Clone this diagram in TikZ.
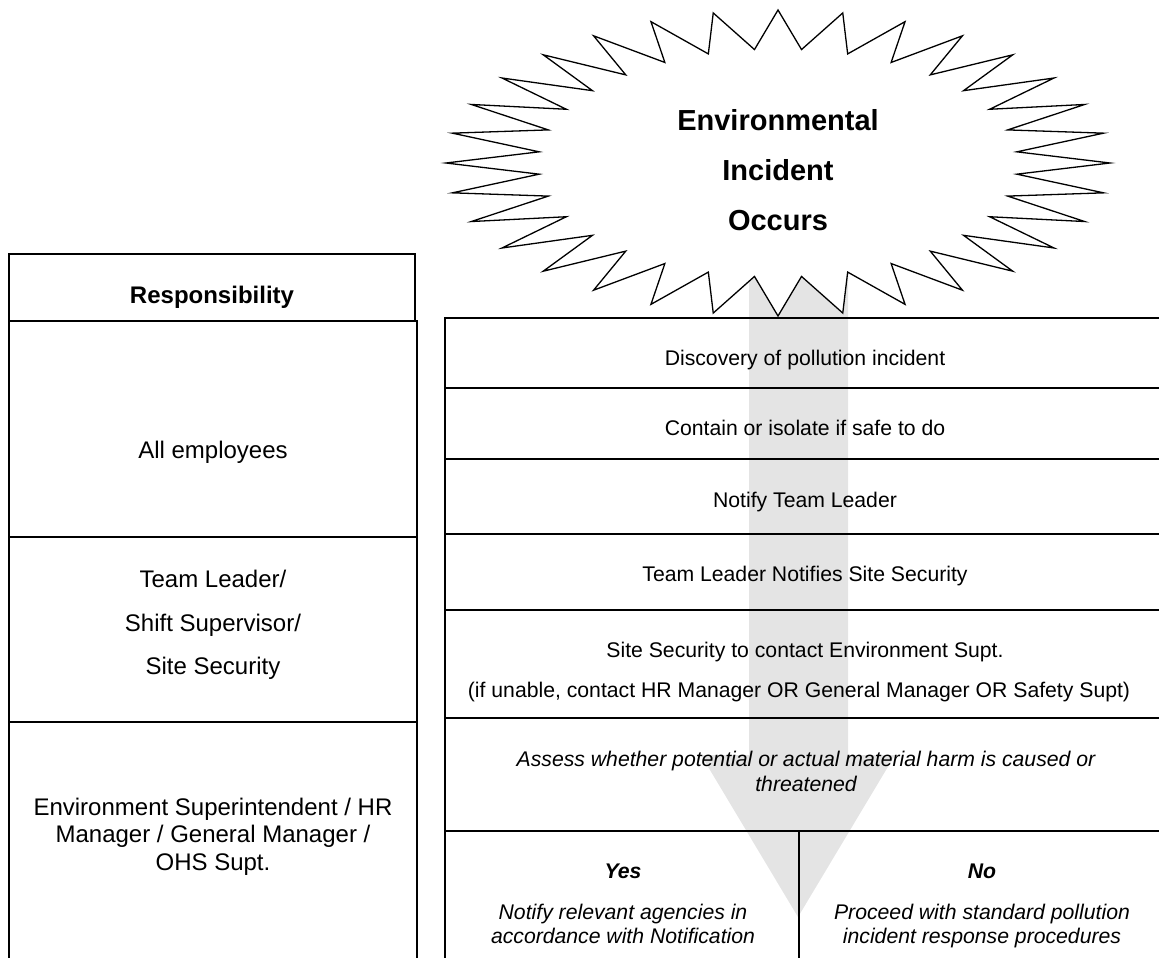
\documentclass[tikz,border=0pt]{standalone}
\usepackage{fontspec}
\setmainfont{Liberation Sans}
\definecolor{arrowgrey}{RGB}{228,228,228}
\begin{document}
\begin{tikzpicture}[x=1pt,y=-1pt,
  cell/.style={draw=black, line width=1.6pt, inner sep=0pt, outer sep=0pt, anchor=north west},
  lt/.style={inner sep=0pt, anchor=base, font=\fontsize{24}{28}\selectfont},
  ltb/.style={inner sep=0pt, anchor=base, font=\fontsize{24}{28}\selectfont\bfseries},
  rt/.style={inner sep=0pt, anchor=base, font=\fontsize{21.2}{25}\selectfont},
  rti/.style={inner sep=0pt, anchor=base, font=\fontsize{21.2}{25}\selectfont\itshape},
  rtbi/.style={inner sep=0pt, anchor=base, font=\fontsize{21.2}{25}\selectfont\bfseries\itshape},
  bt/.style={inner sep=0pt, anchor=base, font=\fontsize{29}{34}\selectfont\bfseries},
  burstline/.style={draw=black, line width=1.3pt, fill=white, line join=miter, miter limit=20},
]
\useasboundingbox (0,0) rectangle (1159,958);

% background block arrow
\fill[arrowgrey] (749,200) -- (749,755) -- (701,755) -- (798,917) -- (895,755) -- (848,755) -- (848,200) -- cycle;

% starburst
\draw[burstline] plot[samples at={0,...,63}, variable=\k]
  ({778+(286+46*cos(\k*180))*cos(\k*5.625)}, {163+(133.5+19.5*cos(\k*180))*sin(\k*5.625)}) -- cycle;
\node[bt] (b1) at (778,130) {Environmental};
\node[bt] (b2) at (778,180) {Incident};
\node[bt] (b3) at (778,230) {Occurs};

% left table
\node[cell, minimum width=406pt, minimum height=67pt] (lhdr) at (9,254) {};
\node[cell, minimum width=408pt, minimum height=216pt] (l1) at (9,321) {};
\node[cell, minimum width=408pt, minimum height=185pt] (l2) at (9,537) {};
\node[cell, minimum width=408pt, minimum height=245pt] (l3) at (9,722) {};

\node[ltb] (tresp) at (212,303) {Responsibility};
\node[lt] (tall) at (213,458) {All employees};
\node[lt] (tteam1) at (213,587) {Team Leader/};
\node[lt] (tteam2) at (213,631) {Shift Supervisor/};
\node[lt] (tteam3) at (213,674) {Site Security};
\node[lt] (tenv1) at (213,815) {Environment Superintendent / HR};
\node[lt] (tenv2) at (213,842) {Manager / General Manager /};
\node[lt] (tenv3) at (213,870) {OHS Supt.};

% right table
\node[cell, minimum width=721pt, minimum height=70pt] (r1) at (445,318) {};
\node[cell, minimum width=721pt, minimum height=71pt] (r2) at (445,388) {};
\node[cell, minimum width=721pt, minimum height=75pt] (r3) at (445,459) {};
\node[cell, minimum width=721pt, minimum height=76pt] (r4) at (445,534) {};
\node[cell, minimum width=721pt, minimum height=108pt] (r5) at (445,610) {};
\node[cell, minimum width=721pt, minimum height=113pt] (r6) at (445,718) {};
\node[cell, minimum width=354pt, minimum height=136pt] (r7a) at (445,831) {};
\node[cell, minimum width=367pt, minimum height=136pt] (r7b) at (799,831) {};

\node[rt] (s1) at (805,365) {Discovery of pollution incident};
\node[rt] (s2) at (805,435) {Contain or isolate if safe to do};
\node[rt] (s3) at (805,507) {Notify Team Leader};
\node[rt] (s4) at (805,581) {Team Leader Notifies Site Security};
\node[rt] (s5a) at (805,657) {Site Security to contact Environment Supt.};
\node[rt] (s5b) at (799,697) {(if unable, contact HR Manager OR General Manager OR Safety Supt)};
\node[rti] (s6a) at (806,766) {Assess whether potential or actual material harm is caused or};
\node[rti] (s6b) at (806,791) {threatened};
\node[rtbi] (yes) at (623,878) {Yes};
\node[rti] (yes1) at (623,919) {Notify relevant agencies in};
\node[rti] (yes2) at (623,943) {accordance with Notification};
\node[rtbi] (no) at (982,878) {No};
\node[rti] (no1) at (982,919) {Proceed with standard pollution};
\node[rti] (no2) at (982,943) {incident response procedures};
\end{tikzpicture}
\end{document}
